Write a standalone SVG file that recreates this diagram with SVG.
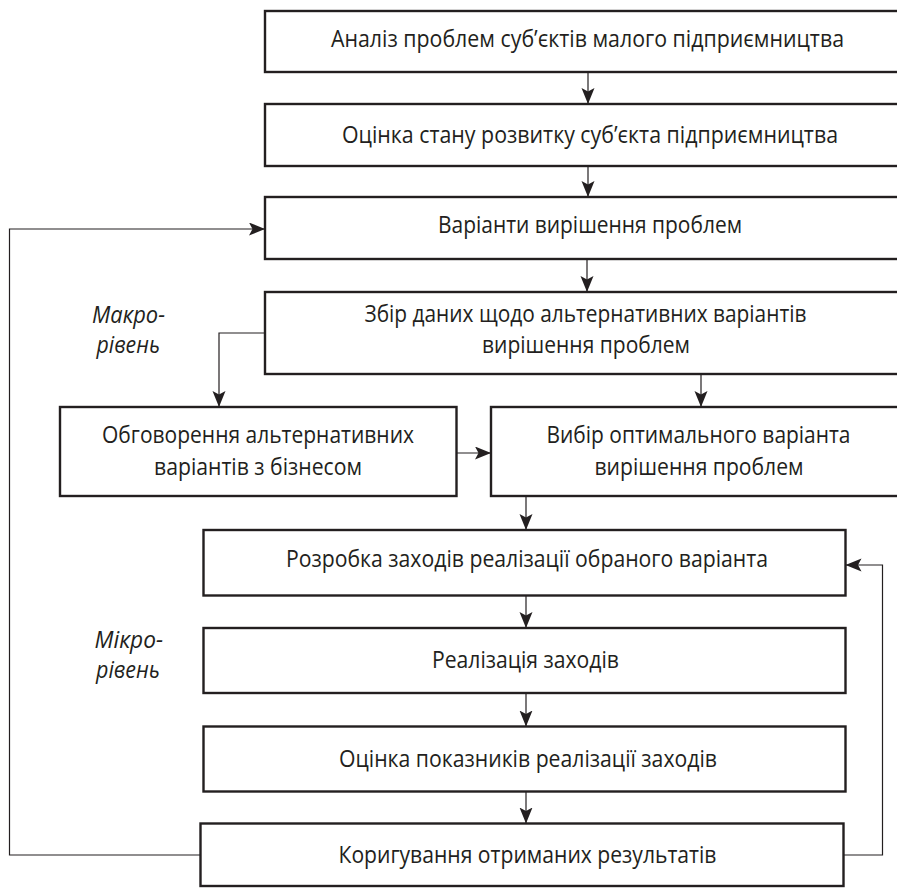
<svg xmlns="http://www.w3.org/2000/svg" width="897" height="888" viewBox="0 0 897 888">
<style>
  .box { fill: #ffffff; stroke: #231f20; stroke-width: 2.4; }
  .t { font-family: "Open Sans", "Noto Sans", sans-serif; font-size: 23px; fill: #231f20; text-anchor: middle; }
  .lbl { font-family: "Open Sans", "Noto Sans", sans-serif; font-size: 23px; font-style: italic; fill: #231f20; }
  .conn { fill: none; stroke: #231f20; stroke-width: 1.2; }
</style>
<defs>
  <marker id="arr" markerUnits="userSpaceOnUse" markerWidth="17" markerHeight="14" refX="16" refY="6.5" orient="auto" viewBox="0 0 17 14">
    <path d="M0,0 L16,6.5 L0,13 L3.5,6.5 Z" fill="#231f20"/>
  </marker>
</defs>
<rect x="0" y="0" width="897" height="888" fill="#ffffff"/>

<g id="connectors">
  <path class="conn" d="M588,72 V104" marker-end="url(#arr)"/>
  <path class="conn" d="M588,166 V197" marker-end="url(#arr)"/>
  <path class="conn" d="M587,259 V292" marker-end="url(#arr)"/>
  <path class="conn" d="M200.5,855 H9.5 V229 H265" marker-end="url(#arr)"/>
  <path class="conn" d="M265,333 H219 V407" marker-end="url(#arr)"/>
  <path class="conn" d="M701,374 V407" marker-end="url(#arr)"/>
  <path class="conn" d="M456.5,453 H491" marker-end="url(#arr)"/>
  <path class="conn" d="M526,496 V530" marker-end="url(#arr)"/>
  <path class="conn" d="M526,595.5 V628" marker-end="url(#arr)"/>
  <path class="conn" d="M526,693 V726.5" marker-end="url(#arr)"/>
  <path class="conn" d="M526,791.5 V823.5" marker-end="url(#arr)"/>
  <path class="conn" d="M843.5,855 H882.5 V565 H845.5" marker-end="url(#arr)"/>
</g>

<g id="n1">
  <rect class="box" x="265" y="11" width="640" height="61"/>
  <text class="t" x="587.5" y="47" textLength="513" lengthAdjust="spacingAndGlyphs">Аналіз проблем суб’єктів малого підприємництва</text>
</g>
<g id="n2">
  <rect class="box" x="265" y="104" width="640" height="62"/>
  <text class="t" x="590" y="143" textLength="496" lengthAdjust="spacingAndGlyphs">Оцінка стану розвитку суб’єкта підприємництва</text>
</g>
<g id="n3">
  <rect class="box" x="265" y="197" width="640" height="62"/>
  <text class="t" x="590" y="233" textLength="304" lengthAdjust="spacingAndGlyphs">Варіанти вирішення проблем</text>
</g>
<g id="n4">
  <rect class="box" x="265" y="292" width="640" height="82"/>
  <text class="t" x="585.5" y="321.5" textLength="442" lengthAdjust="spacingAndGlyphs">Збір даних щодо альтернативних варіантів</text>
  <text class="t" x="586" y="353" textLength="208" lengthAdjust="spacingAndGlyphs">вирішення проблем</text>
</g>
<g id="n5">
  <rect class="box" x="60" y="407" width="396.5" height="89"/>
  <text class="t" x="258" y="442.5" textLength="312" lengthAdjust="spacingAndGlyphs">Обговорення альтернативних</text>
  <text class="t" x="258" y="475" textLength="208" lengthAdjust="spacingAndGlyphs">варіантів з бізнесом</text>
</g>
<g id="n6">
  <rect class="box" x="491" y="407" width="414" height="89"/>
  <text class="t" x="698.5" y="442.5" textLength="304" lengthAdjust="spacingAndGlyphs">Вибір оптимального варіанта</text>
  <text class="t" x="699" y="475" textLength="209" lengthAdjust="spacingAndGlyphs">вирішення проблем</text>
</g>
<g id="n7">
  <rect class="box" x="203.5" y="530" width="642" height="65.5"/>
  <text class="t" x="527" y="567" textLength="482" lengthAdjust="spacingAndGlyphs">Розробка заходів реалізації обраного варіанта</text>
</g>
<g id="n8">
  <rect class="box" x="203.5" y="628" width="642" height="65"/>
  <text class="t" x="525.5" y="668" textLength="187" lengthAdjust="spacingAndGlyphs">Реалізація заходів</text>
</g>
<g id="n9">
  <rect class="box" x="203.5" y="726.5" width="642" height="65"/>
  <text class="t" x="528" y="766.5" textLength="378" lengthAdjust="spacingAndGlyphs">Оцінка показників реалізації заходів</text>
</g>
<g id="n10">
  <rect class="box" x="200.5" y="823.5" width="643" height="62.5"/>
  <text class="t" x="527.5" y="863" textLength="378" lengthAdjust="spacingAndGlyphs">Коригування отриманих результатів</text>
</g>

<g id="labels">
  <text class="lbl" x="92" y="323" textLength="73" lengthAdjust="spacingAndGlyphs">Макро-</text>
  <text class="lbl" x="96.5" y="353" textLength="63.5" lengthAdjust="spacingAndGlyphs">рівень</text>
  <text class="lbl" x="94.5" y="648" textLength="68.5" lengthAdjust="spacingAndGlyphs">Мікро-</text>
  <text class="lbl" x="96" y="678" textLength="64" lengthAdjust="spacingAndGlyphs">рівень</text>
</g>
</svg>
